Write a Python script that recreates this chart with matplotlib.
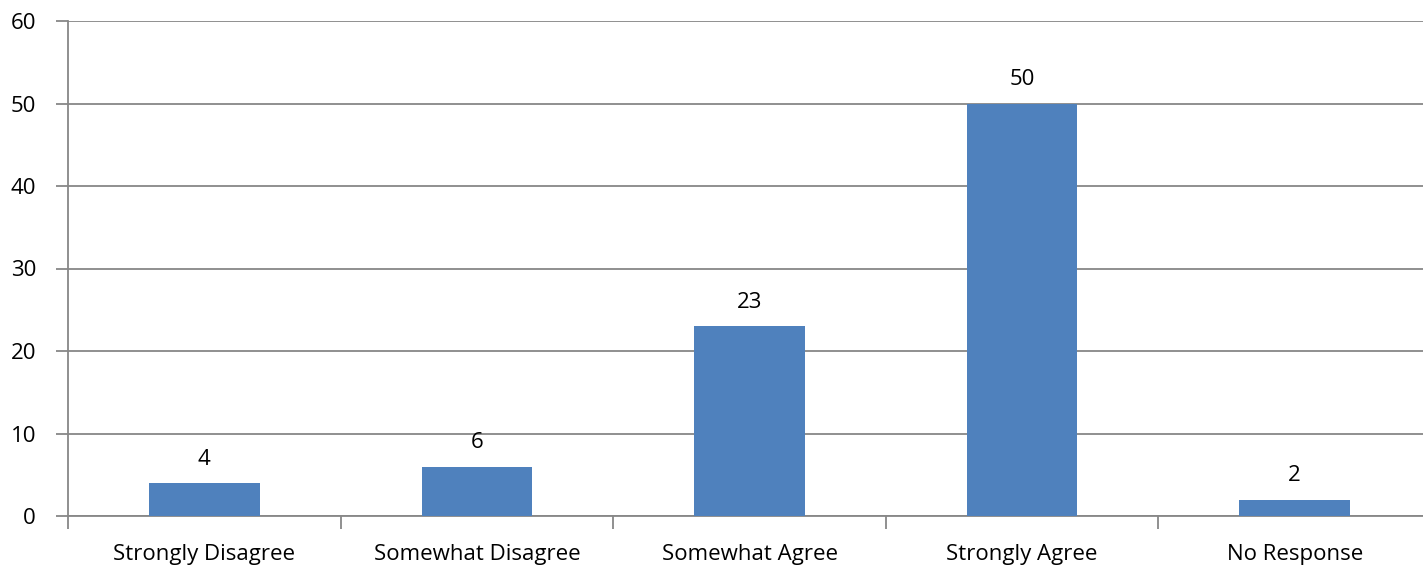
import numpy as np
import matplotlib.pyplot as plt

categories = ['Strongly Disagree', 'Somewhat Disagree', 'Somewhat Agree', 'Strongly Agree', 'No Response']
values = [4, 6, 23, 50, 2]
y_ticks = [0, 10, 20, 30, 40, 50, 60]

plt.rcParams['font.family'] = ['Open Sans', 'DejaVu Sans']

fig = plt.figure(figsize=(14.23, 5.67), dpi=100)
# plot area runs a little past the right edge of the image, as in the original
ax = fig.add_axes([68 / 1423, 51 / 567, 1363 / 1423, 495 / 567])

x = np.arange(len(categories))
ax.bar(x, values, width=0.405, color='#4F81BD', zorder=3)

# value labels above bars
for xi, v in zip(x, values):
    ax.text(xi, v + 2.2, str(v), ha='center', va='baseline', fontsize=16, color='black')

ax.set_xlim(-0.5, len(categories) - 0.5)
ax.set_ylim(0, 60)
ax.set_yticks(y_ticks)
ax.set_yticklabels([str(t) for t in y_ticks], fontsize=16)
ax.yaxis.grid(True, color='#878787', linewidth=1.3, zorder=0)

# category labels centered, tick marks on the boundaries
ax.set_xticks(np.arange(len(categories) + 1) - 0.5)
ax.set_xticklabels([])
ax.set_xticks(x, minor=True)
ax.set_xticklabels(categories, minor=True, fontsize=16)
ax.tick_params(axis='x', which='minor', length=0, pad=20)
ax.tick_params(axis='x', which='major', length=9, width=1.3, color='#878787', direction='out')
ax.tick_params(axis='y', length=9, width=1.3, color='#878787', pad=14)

for side in ['top', 'right']:
    ax.spines[side].set_visible(False)
for side in ['left', 'bottom']:
    ax.spines[side].set_color('#878787')
    ax.spines[side].set_linewidth(1.3)

fig.savefig('out.png', dpi=100)
